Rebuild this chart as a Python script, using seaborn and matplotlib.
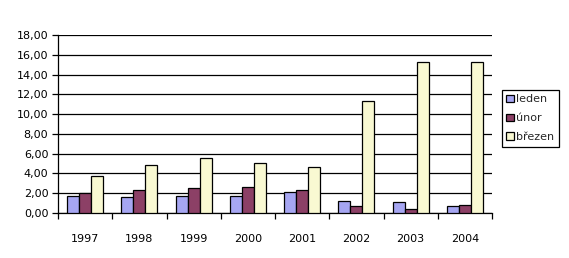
import matplotlib
matplotlib.use("Agg")
import matplotlib.pyplot as plt
import seaborn as sns
import pandas as pd
from matplotlib.ticker import FuncFormatter, FixedLocator

years = ["1997", "1998", "1999", "2000", "2001", "2002", "2003", "2004"]
leden = [1.72, 1.62, 1.72, 1.72, 2.12, 1.21, 1.11, 0.71]
unor = [2.02, 2.32, 2.53, 2.63, 2.32, 0.71, 0.40, 0.81]
brezen = [3.77, 4.85, 5.59, 5.05, 4.68, 11.35, 15.25, 15.25]
series_names = ["leden", "únor", "březen"]
colors = ["#9999FF", "#993366", "#FFFFCC"]

rows = []
for name, vals in zip(series_names, [leden, unor, brezen]):
    for y, v in zip(years, vals):
        rows.append({"rok": y, "měsíc": name, "hodnota": v})
df = pd.DataFrame(rows)

sns.set_theme(style="white")
plt.rcParams["font.family"] = ["DejaVu Sans"]

fig = plt.figure(figsize=(5.69, 2.58), dpi=100)
ax = fig.add_axes([58/569, 45/258, 434/569, 178/258])

sns.barplot(data=df, x="rok", y="hodnota", hue="měsíc", order=years,
            hue_order=series_names, palette=colors, width=0.66,
            edgecolor="black", linewidth=0.9, ax=ax, zorder=3)

ax.set_ylim(0, 18)
ax.set_yticks(range(0, 19, 2))
ax.yaxis.set_major_formatter(FuncFormatter(lambda v, p: f"{v:.2f}".replace(".", ",")))
ax.set_xlim(-0.5, len(years) - 0.5)
ax.grid(axis="y", color="black", linewidth=0.9, zorder=0)
ax.set_axisbelow(True)
for s in ["top", "right"]:
    ax.spines[s].set_visible(False)
for s in ["left", "bottom"]:
    ax.spines[s].set_color("black")
    ax.spines[s].set_linewidth(0.9)
ax.set_xlabel("")
ax.set_ylabel("")
ax.tick_params(axis="y", left=True, length=4, width=0.9, color="black",
               labelsize=8, labelcolor="black", pad=3)
ax.tick_params(axis="x", which="major", bottom=False, labelsize=8,
               labelcolor="black", pad=9)
ax.xaxis.set_minor_locator(FixedLocator([i + 0.5 for i in range(-1, len(years))]))
ax.tick_params(axis="x", which="minor", bottom=True, length=4, width=0.9, color="black")

handles, labels = ax.get_legend_handles_labels()
ax.legend(handles, labels, loc="upper left", bbox_to_anchor=(502/569, 1 - 90/258),
          bbox_transform=fig.transFigure, frameon=True, fancybox=False,
          edgecolor="black", framealpha=1, fontsize=8, handlelength=0.7,
          handleheight=0.7, handletextpad=0.2, borderpad=0.4, labelspacing=0.8,
          borderaxespad=0)
leg = ax.get_legend()
leg.get_frame().set_linewidth(0.9)

fig.savefig("out.png", dpi=100)
